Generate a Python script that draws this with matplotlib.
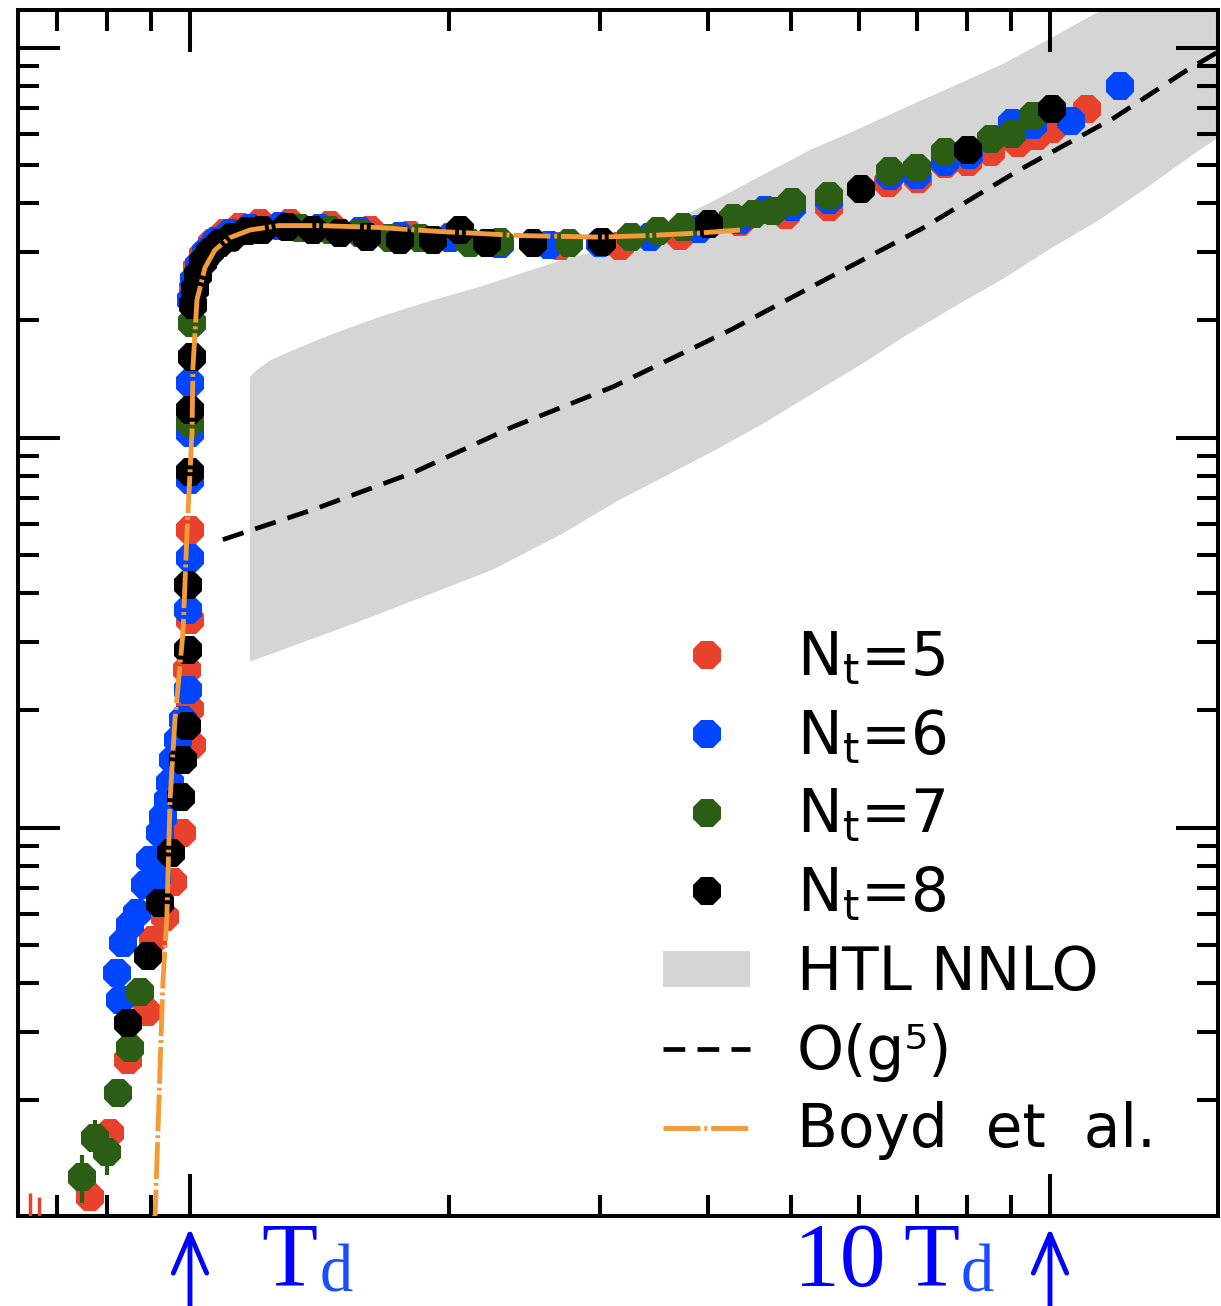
import matplotlib.pyplot as plt
import numpy as np
from matplotlib.ticker import LogLocator, NullFormatter

plt.rcParams['font.family'] = 'DejaVu Sans'

# lattice points, x = T/Td (y axis has no labels, arbitrary log units)
t_nt5 = [0.765, 0.807, 0.847, 0.891, 0.906, 0.935, 0.955, 0.979, 1.005, 1.0, 0.992, 1.0, 1.0,
         1.008, 1.019, 1.035, 1.061, 1.098, 1.143, 1.206, 1.307, 1.455, 1.619, 1.803, 2.006,
         2.292, 2.693, 3.162, 3.713, 4.36, 4.93, 5.54, 6.48, 7.02, 7.55, 8.03, 8.54, 9.18,
         9.66, 10.05, 11.04]
y_nt5 = [0.0113, 0.0165, 0.0254, 0.0336, 0.0516, 0.0591, 0.0727, 0.0971, 0.163, 0.201, 0.254,
         0.341, 0.581, 2.40, 2.73, 2.95, 3.16, 3.35, 3.48, 3.56, 3.56, 3.52, 3.40, 3.32, 3.28,
         3.14, 3.11, 3.11, 3.30, 3.58, 3.73, 3.91, 4.51, 4.61, 5.04, 5.10, 5.41, 5.71, 5.95,
         6.20, 6.97]
# two Nt=5 points just under the frame, only their error bars show
t_nt5_low = [0.652, 0.668]
y_nt5_low = [0.0088, 0.0086]
e_nt5_low = [0.0028, 0.0027]

t_nt6 = [0.829, 0.823, 0.836, 0.852, 0.868, 0.886, 0.899, 0.915, 0.923, 0.930, 0.943, 0.948,
         0.955, 0.968, 0.981, 0.995, 0.995, 1.0, 1.0, 1.0, 1.0, 1.005, 1.003, 1.011, 1.024,
         1.044, 1.072, 1.113, 1.174, 1.273, 1.416, 1.577, 1.753, 2.006, 2.292, 2.617, 2.995,
         3.426, 3.91, 4.36, 4.66, 5.01, 5.54, 6.52, 7.0, 7.55, 8.05, 9.03, 9.55, 10.58, 12.06]
y_nt6 = [0.0362, 0.0425, 0.0507, 0.0564, 0.0605, 0.0714, 0.0828, 0.0749, 0.0971, 0.1067,
         0.118, 0.130, 0.149, 0.168, 0.189, 0.226, 0.362, 0.492, 0.780, 1.03, 1.384, 1.972,
         2.26, 2.54, 2.78, 3.00, 3.20, 3.35, 3.46, 3.50, 3.46, 3.38, 3.30, 3.26, 3.14, 3.12,
         3.16, 3.28, 3.44, 3.62, 3.84, 3.91, 4.08, 4.70, 4.73, 5.10, 5.32, 6.42, 6.35, 6.50,
         7.99]

t_nt7 = [0.749, 0.775, 0.800, 0.825, 0.852, 0.875, 1.0, 1.005, 1.041, 1.113, 1.206, 1.342,
         1.455, 1.577, 1.708, 1.851, 2.117, 2.292, 2.759, 3.257, 3.502, 3.744, 4.28, 4.53,
         4.764, 5.01, 5.53, 6.52, 7.0, 7.55, 8.54, 9.03, 9.55]
y_nt7 = [0.0127, 0.0160, 0.0147, 0.0209, 0.0273, 0.0380, 1.093, 1.972, 2.89, 3.26, 3.41,
         3.46, 3.41, 3.35, 3.26, 3.26, 3.16, 3.18, 3.16, 3.28, 3.38, 3.48, 3.67, 3.75, 3.82,
         4.03, 4.17, 4.84, 4.92, 5.41, 5.84, 6.02, 6.69]
e_nt7 = [0.0018, 0.0018, 0.0018] + [0] * 30

t_nt8 = [0.847, 0.894, 0.923, 0.950, 0.976, 0.981, 0.992, 0.995, 0.995, 1.0, 1.0, 1.005,
         1.008, 1.0135, 1.022, 1.035, 1.055, 1.084, 1.119, 1.165, 1.213, 1.297, 1.390, 1.494,
         1.606, 1.753, 1.917, 2.061, 2.214, 2.505, 3.013, 4.013, 6.03, 8.03, 10.05]
y_nt8 = [0.0316, 0.0470, 0.0642, 0.0863, 0.120, 0.149, 0.182, 0.286, 0.420, 0.818, 1.180,
         1.613, 2.19, 2.40, 2.62, 2.83, 3.00, 3.16, 3.28, 3.38, 3.41, 3.48, 3.41, 3.35, 3.28,
         3.22, 3.22, 3.41, 3.16, 3.16, 3.18, 3.54, 4.35, 5.48, 6.97]

# Boyd et al. curve
t_boyd = [0.905, 0.911, 0.930, 0.940, 0.948, 0.9606, 0.9814, 0.992, 1.0054, 1.008, 1.019,
          1.041, 1.069, 1.113, 1.174, 1.269, 1.416, 1.663, 1.952, 2.42, 3.0, 3.42, 3.91, 4.36]
y_boyd = [0.0095, 0.0102, 0.0400, 0.0591, 0.118, 0.189, 0.316, 0.571, 1.03, 1.52, 2.26,
          2.73, 3.03, 3.26, 3.41, 3.50, 3.50, 3.46, 3.38, 3.30, 3.27, 3.30, 3.35, 3.41]

# O(g^5) curve
t_g5 = [1.092, 1.390, 1.816, 2.374, 3.104, 4.256, 5.50, 7.10, 9.18, 11.87, 14.39, 16.2]
y_g5 = [0.548, 0.654, 0.813, 1.067, 1.351, 1.892, 2.556, 3.44, 4.84, 6.61, 8.73, 10.18]

# HTL NNLO band edges
t_htl_hi = [1.174, 1.174, 1.20, 1.24, 1.297, 1.45, 1.663, 1.90, 2.174, 2.715, 3.162, 3.60,
            4.09, 4.65, 5.27, 6.0, 6.82, 7.8, 8.82, 10.0, 11.28, 16.2]
y_htl_hi = [0.2665, 1.434, 1.50, 1.58, 1.652, 1.83, 2.043, 2.24, 2.44, 2.86, 3.12, 3.55,
            4.08, 4.74, 5.48, 6.20, 7.06, 8.05, 9.10, 10.55, 12.23, 18.9]
t_htl_lo = [1.174, 1.572, 2.25, 2.70, 3.162, 3.60, 4.09, 4.65, 5.27, 6.0, 6.82, 7.8, 8.82,
            10.0, 11.37, 13.0, 14.71, 16.2]
y_htl_lo = [0.2665, 0.3375, 0.459, 0.565, 0.694, 0.805, 0.932, 1.09, 1.289, 1.53, 1.837,
            2.19, 2.556, 3.05, 3.60, 4.40, 5.35, 6.16]

red = '#E8412C'
blue = '#0046FF'
green = '#2B5E14'
orange = '#F29B38'

fig = plt.figure(figsize=(12.21, 13.06), dpi=100)
ax = fig.add_axes([18 / 1221, 1 - 1216 / 1306, 1200 / 1221, 1206 / 1306])
ax.set_xscale('log')
ax.set_yscale('log')
ax.set_xlim(0.631, 15.68)
ax.set_ylim(0.0101, 12.5)

band_t = np.concatenate([t_htl_hi, t_htl_lo[::-1]])
band_y = np.concatenate([y_htl_hi, y_htl_lo[::-1]])
band = ax.fill(band_t, band_y, color='#d5d5d5', lw=0, zorder=1, label='HTL NNLO')[0]

g5, = ax.plot(t_g5, y_g5, color='black', lw=3.4, dashes=(4.6, 2.6), zorder=2,
              label='O(g\u2075)')

ms = 22
ax.errorbar(t_nt5_low, y_nt5_low, yerr=e_nt5_low, fmt='none', ecolor=red, elinewidth=2.5,
            capsize=0, zorder=3)
h5, = ax.plot(t_nt5, y_nt5, '8', color=red, ms=ms, mew=0, zorder=3, label=r'N$_\mathrm{t}$=5')
h6, = ax.plot(t_nt6, y_nt6, '8', color=blue, ms=ms, mew=0, zorder=3, label=r'N$_\mathrm{t}$=6')
ax.errorbar(t_nt7, y_nt7, yerr=e_nt7, fmt='none', ecolor=green, elinewidth=3, capsize=0,
            zorder=3)
h7, = ax.plot(t_nt7, y_nt7, '8', color=green, ms=ms, mew=0, zorder=3, label=r'N$_\mathrm{t}$=7')
h8, = ax.plot(t_nt8, y_nt8, '8', color='black', ms=ms, mew=0, zorder=3,
              label=r'N$_\mathrm{t}$=8')

boyd, = ax.plot(t_boyd, y_boyd, color=orange, lw=3.5, dashes=(7.6, 0.8, 0.6, 0.8), zorder=4,
                label='Boyd  et  al.')

# ticks: inward on all sides, no labels
ax.xaxis.set_major_locator(LogLocator(base=10, subs=(1.0,)))
ax.xaxis.set_minor_locator(LogLocator(base=10, subs=np.arange(2, 10) * 1.0, numticks=20))
ax.yaxis.set_major_locator(LogLocator(base=10, subs=(1.0,)))
ax.yaxis.set_minor_locator(LogLocator(base=10, subs=np.arange(2, 10) * 1.0, numticks=20))
ax.xaxis.set_minor_formatter(NullFormatter())
ax.yaxis.set_minor_formatter(NullFormatter())
ax.tick_params(which='both', direction='in', top=True, right=True,
               labelbottom=False, labelleft=False, width=2.9)
ax.tick_params(which='major', length=30)
ax.tick_params(which='minor', length=15)
for s in ax.spines.values():
    s.set_linewidth(2.9)

ax.legend([h5, h6, h7, h8, band, g5, boyd],
          [h.get_label() for h in [h5, h6, h7, h8, band, g5, boyd]],
          loc='upper left', bbox_to_anchor=(663 / 1221, 1 - 629 / 1306),
          bbox_transform=fig.transFigure, frameon=False, fontsize=43,
          handlelength=1.46, handleheight=0.56, handletextpad=0.78, labelspacing=0.33,
          borderpad=0, borderaxespad=0, numpoints=1)

# Td markers below the axis
xtr = ax.get_xaxis_transform()
for xv in [1.0, 10.0]:
    ax.annotate('', xy=(xv, -0.01), xytext=(xv, -0.09), xycoords=xtr, textcoords=xtr,
                arrowprops=dict(arrowstyle='->,head_length=0.7,head_width=0.3',
                                color='#0000ff', lw=3.5, mutation_scale=40,
                                shrinkA=0, shrinkB=0),
                annotation_clip=False)
serif = 'Liberation Serif'
fig.text(261 / 1221, 0.001, 'T', fontsize=66, family=serif, color='#0000ff', va='bottom')
fig.text(320 / 1221, 0.0, 'd', fontsize=48, family=serif, color='#1a4dff', va='bottom')
fig.text(794 / 1221, 0.001, '10', fontsize=66, family=serif, color='#0000ff', va='bottom')
fig.text(903 / 1221, 0.001, 'T', fontsize=66, family=serif, color='#0000ff', va='bottom')
fig.text(961 / 1221, 0.0, 'd', fontsize=48, family=serif, color='#1a4dff', va='bottom')

fig.savefig('out.png', dpi=100)
